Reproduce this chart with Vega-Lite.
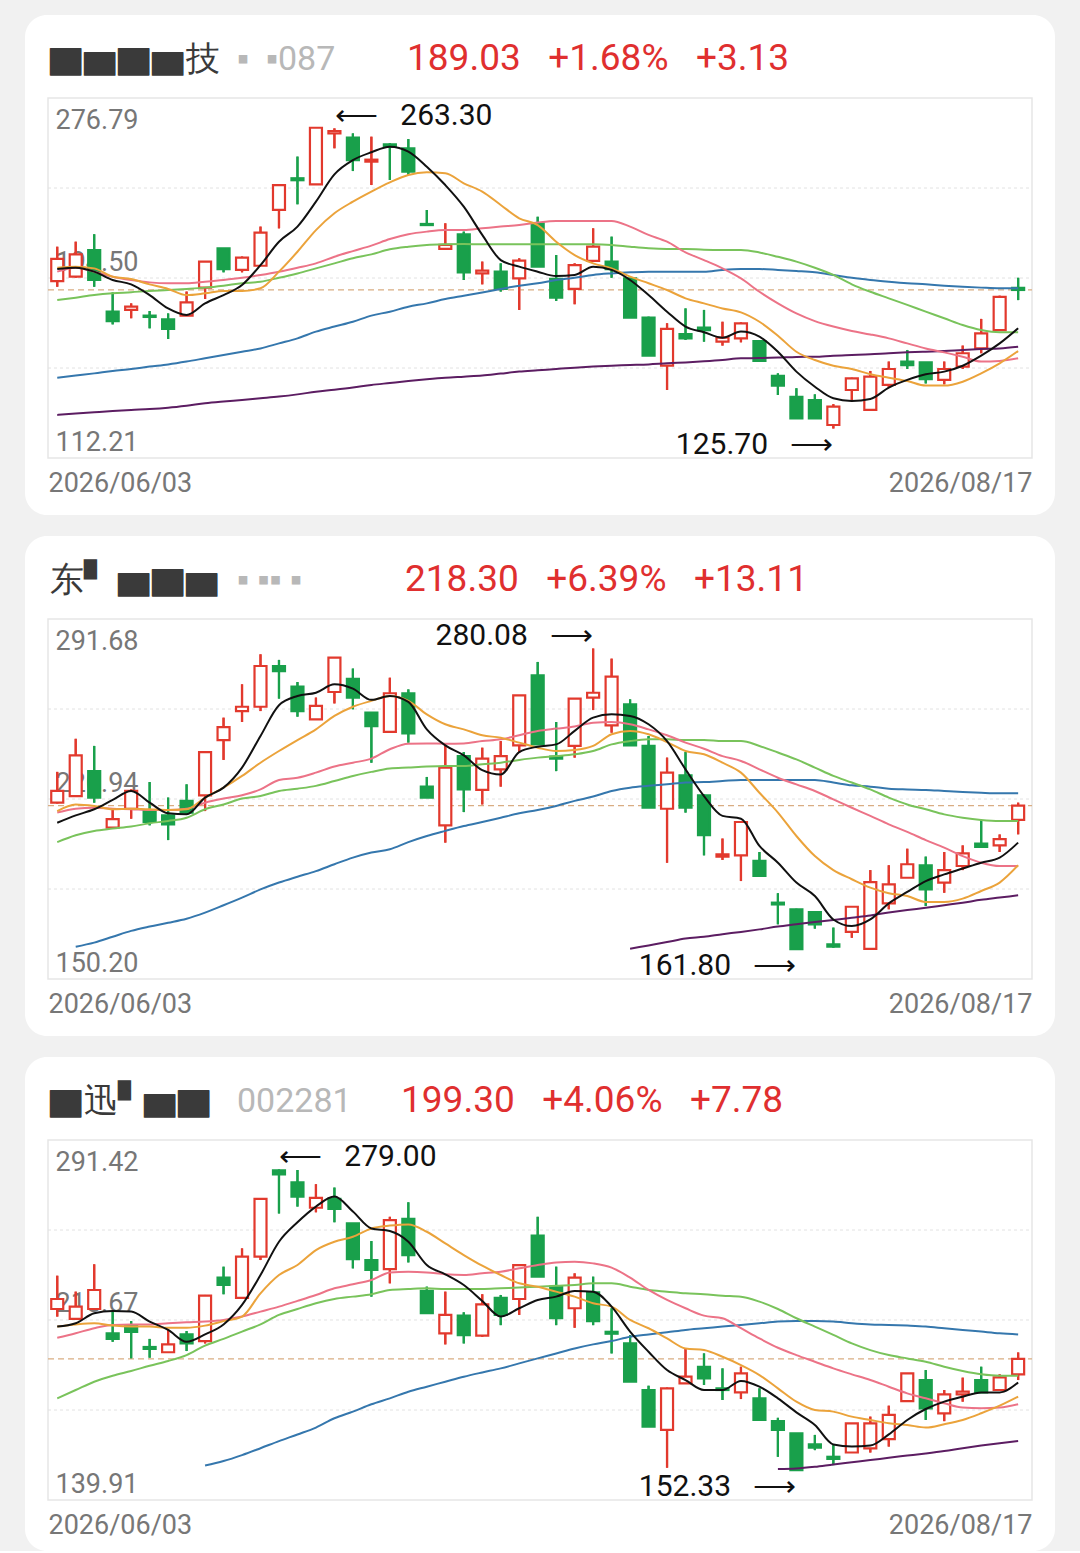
{
"$schema": "https://vega.github.io/schema/vega-lite/v6.json",
"background": "#f1f1f1",
"padding": {"left": 25, "top": 15, "right": 25, "bottom": 0},
"spacing": 21,
"config": {"view": {"stroke": null}, "font": "Roboto",
 "axisX": {"domain": false, "ticks": false, "grid": false, "labelPadding": 12, "labelFontSize": 27, "labelColor": "#777777", "labelFont": "Roboto", "labelBound": false, "labelOverlap": false, "title": null},
 "axisY": {"domain": false, "ticks": false, "grid": false, "labelAlign": "left", "labelPadding": -12, "labelFont": "Roboto", "labelFontSize": 27, "labelColor": "#777777", "labelOverlap": false, "labelBound": false, "title": null}},
"datasets": {
"p1": [
{"i":0,"o":193.1,"h":208.8,"l":190.5,"c":203.2,"m5":198.6,"m10":199.2,"m20":197.4,"m30":184.4,"m60":148.9,"m120":131.9},
{"i":1,"o":195.1,"h":211.1,"l":194.7,"c":205.3,"m5":199.2,"m10":199.7,"m20":199.2,"m30":185.5,"m60":149.9,"m120":132.5},
{"i":2,"o":207.3,"h":214.5,"l":190.5,"c":193.6,"m5":197.4,"m10":198.9,"m20":197.4,"m30":186.7,"m60":150.9,"m120":133.1},
{"i":3,"o":179.1,"h":187.9,"l":173.3,"c":174.8,"m5":193.6,"m10":195.1,"m20":195.1,"m30":187.5,"m60":152.0,"m120":133.7},
{"i":4,"o":179.9,"h":182.9,"l":176.1,"c":181.4,"m5":191.6,"m10":194.0,"m20":193.6,"m30":188.0,"m60":152.9,"m120":134.2},
{"i":5,"o":177.3,"h":179.4,"l":171.5,"c":176.7,"m5":186.7,"m10":191.6,"m20":192.5,"m30":188.6,"m60":154.0,"m120":134.6},
{"i":6,"o":175.6,"h":178.3,"l":166.6,"c":171.2,"m5":180.6,"m10":189.5,"m20":192.1,"m30":189.0,"m60":155.0,"m120":135.2},
{"i":7,"o":177.3,"h":188.3,"l":177.3,"c":183.4,"m5":177.6,"m10":186.7,"m20":192.1,"m30":189.5,"m60":156.3,"m120":136.1},
{"i":8,"o":190.1,"h":202.0,"l":184.9,"c":202.0,"m5":182.9,"m10":187.5,"m20":192.8,"m30":190.1,"m60":157.8,"m120":137.2},
{"i":9,"o":208.1,"h":208.1,"l":197.1,"c":198.6,"m5":186.7,"m10":188.6,"m20":193.6,"m30":191.0,"m60":159.3,"m120":138.0},
{"i":10,"o":198.2,"h":204.3,"l":197.1,"c":203.8,"m5":191.3,"m10":188.6,"m20":194.6,"m30":192.1,"m60":160.8,"m120":138.7},
{"i":11,"o":200.1,"h":218.0,"l":200.1,"c":215.2,"m5":200.4,"m10":189.8,"m20":195.9,"m30":192.8,"m60":162.3,"m120":139.5},
{"i":12,"o":225.6,"h":237.0,"l":217.2,"c":237.0,"m5":211.1,"m10":197.4,"m20":197.4,"m30":194.6,"m60":164.6,"m120":140.3},
{"i":13,"o":240.1,"h":250.0,"l":228.2,"c":239.2,"m5":218.0,"m10":206.5,"m20":199.2,"m30":196.6,"m60":166.9,"m120":141.3},
{"i":14,"o":237.3,"h":263.3,"l":237.3,"c":263.2,"m5":229.4,"m10":216.4,"m20":201.2,"m30":198.9,"m60":170.0,"m120":142.5},
{"i":15,"o":260.6,"h":262.9,"l":253.8,"c":261.7,"m5":241.9,"m10":224.1,"m20":204.2,"m30":201.2,"m60":172.3,"m120":143.4},
{"i":16,"o":258.7,"h":260.6,"l":243.4,"c":248.4,"m5":248.4,"m10":229.4,"m20":206.8,"m30":203.5,"m60":174.5,"m120":144.4},
{"i":17,"o":247.7,"h":259.1,"l":237.0,"c":248.6,"m5":252.0,"m10":234.0,"m20":209.3,"m30":205.3,"m60":177.3,"m120":145.6},
{"i":18,"o":255.6,"h":256.1,"l":239.3,"c":254.5,"m5":254.5,"m10":238.2,"m20":212.3,"m30":207.6,"m60":179.1,"m120":146.5},
{"i":19,"o":253.8,"h":258.0,"l":241.6,"c":243.1,"m5":252.3,"m10":241.6,"m20":214.5,"m30":208.8,"m60":181.4,"m120":147.4},
{"i":20,"o":219.2,"h":225.6,"l":218.7,"c":218.7,"m5":245.4,"m10":242.8,"m20":215.7,"m30":209.6,"m60":182.9,"m120":148.2},
{"i":21,"o":207.8,"h":219.5,"l":207.8,"c":209.6,"m5":237.0,"m10":242.4,"m20":216.4,"m30":209.9,"m60":184.9,"m120":148.9},
{"i":22,"o":214.5,"h":215.7,"l":193.6,"c":197.1,"m5":227.1,"m10":237.8,"m20":216.4,"m30":210.0,"m60":186.4,"m120":149.4},
{"i":23,"o":196.6,"h":202.0,"l":191.6,"c":197.9,"m5":214.2,"m10":234.0,"m20":217.2,"m30":209.9,"m60":187.9,"m120":149.9},
{"i":24,"o":197.4,"h":201.2,"l":188.3,"c":189.5,"m5":202.7,"m10":227.9,"m20":218.0,"m30":209.9,"m60":189.5,"m120":150.8},
{"i":25,"o":194.3,"h":203.5,"l":179.9,"c":202.4,"m5":199.7,"m10":221.8,"m20":218.7,"m30":209.9,"m60":191.0,"m120":151.7},
{"i":26,"o":219.5,"h":222.5,"l":199.7,"c":199.7,"m5":197.4,"m10":218.7,"m20":219.9,"m30":209.9,"m60":192.1,"m120":152.3},
{"i":27,"o":194.1,"h":205.0,"l":184.0,"c":185.5,"m5":195.4,"m10":211.1,"m20":220.6,"m30":209.9,"m60":193.6,"m120":152.9},
{"i":28,"o":189.5,"h":201.2,"l":182.5,"c":200.4,"m5":195.9,"m10":205.0,"m20":220.6,"m30":209.9,"m60":194.6,"m120":153.5},
{"i":29,"o":202.3,"h":217.2,"l":202.3,"c":208.8,"m5":199.7,"m10":201.2,"m20":220.6,"m30":209.9,"m60":195.9,"m120":154.0},
{"i":30,"o":202.0,"h":213.4,"l":194.6,"c":198.6,"m5":198.2,"m10":198.9,"m20":220.6,"m30":209.6,"m60":196.6,"m120":154.4},
{"i":31,"o":194.3,"h":194.3,"l":176.4,"c":176.4,"m5":193.6,"m10":195.1,"m20":218.0,"m30":208.8,"m60":197.1,"m120":154.7},
{"i":32,"o":176.4,"h":176.8,"l":159.0,"c":159.0,"m5":186.7,"m10":192.1,"m20":214.2,"m30":208.1,"m60":197.4,"m120":155.0},
{"i":33,"o":154.4,"h":173.8,"l":143.3,"c":171.2,"m5":179.1,"m10":189.0,"m20":211.1,"m30":207.8,"m60":197.4,"m120":155.5},
{"i":34,"o":168.8,"h":180.6,"l":166.2,"c":166.9,"m5":172.3,"m10":185.2,"m20":206.2,"m30":207.8,"m60":197.4,"m120":155.9},
{"i":35,"o":171.8,"h":179.9,"l":165.4,"c":170.7,"m5":169.7,"m10":182.9,"m20":202.7,"m30":207.4,"m60":197.4,"m120":156.4},
{"i":36,"o":165.4,"h":174.5,"l":163.6,"c":167.2,"m5":167.2,"m10":180.6,"m20":198.9,"m30":207.3,"m60":198.2,"m120":157.0},
{"i":37,"o":166.9,"h":174.2,"l":165.1,"c":173.8,"m5":170.0,"m10":178.8,"m20":194.3,"m30":207.3,"m60":198.6,"m120":157.8},
{"i":38,"o":165.7,"h":165.7,"l":156.6,"c":156.6,"m5":167.7,"m10":174.5,"m20":188.2,"m30":206.2,"m60":198.6,"m120":157.9},
{"i":39,"o":149.8,"h":150.9,"l":141.0,"c":145.3,"m5":160.8,"m10":168.1,"m20":182.9,"m30":204.2,"m60":198.2,"m120":158.1},
{"i":40,"o":140.2,"h":144.1,"l":130.3,"c":130.3,"m5":151.7,"m10":160.8,"m20":178.3,"m30":202.0,"m60":197.7,"m120":158.4},
{"i":41,"o":138.7,"h":141.3,"l":130.3,"c":130.3,"m5":144.8,"m10":157.0,"m20":174.8,"m30":199.2,"m60":197.1,"m120":158.5},
{"i":42,"o":127.3,"h":136.8,"l":125.7,"c":135.7,"m5":139.5,"m10":154.4,"m20":172.3,"m30":195.9,"m60":195.9,"m120":159.0},
{"i":43,"o":143.3,"h":148.9,"l":138.0,"c":148.6,"m5":138.3,"m10":152.9,"m20":170.3,"m30":191.6,"m60":194.6,"m120":159.3},
{"i":44,"o":134.2,"h":152.0,"l":134.2,"c":149.4,"m5":139.2,"m10":150.5,"m20":168.7,"m30":188.2,"m60":193.6,"m120":159.6},
{"i":45,"o":145.6,"h":156.3,"l":144.4,"c":152.9,"m5":144.4,"m10":148.9,"m20":166.9,"m30":185.2,"m60":192.8,"m120":160.1},
{"i":46,"o":156.3,"h":161.6,"l":152.9,"c":154.7,"m5":147.9,"m10":147.4,"m20":164.6,"m30":182.2,"m60":192.1,"m120":160.5},
{"i":47,"o":155.9,"h":155.9,"l":146.3,"c":148.3,"m5":150.5,"m10":145.3,"m20":162.3,"m30":179.1,"m60":191.6,"m120":160.8},
{"i":48,"o":147.9,"h":156.3,"l":145.9,"c":152.9,"m5":151.7,"m10":145.3,"m20":160.5,"m30":176.1,"m60":191.0,"m120":161.1},
{"i":49,"o":154.0,"h":163.6,"l":152.9,"c":160.1,"m5":154.4,"m10":147.1,"m20":158.5,"m30":173.0,"m60":190.5,"m120":161.6},
{"i":50,"o":162.3,"h":175.8,"l":160.1,"c":169.2,"m5":159.0,"m10":150.9,"m20":156.3,"m30":170.7,"m60":190.1,"m120":162.0},
{"i":51,"o":170.7,"h":186.4,"l":170.7,"c":185.9,"m5":164.6,"m10":155.5,"m20":156.6,"m30":169.7,"m60":189.8,"m120":162.3},
{"i":52,"o":190.0,"h":194.6,"l":184.4,"c":189.03,"m5":171.5,"m10":161.1,"m20":157.8,"m30":169.7,"m60":189.8,"m120":163.1}
],
"p2": [
{"i":0,"o":219.5,"h":231.6,"l":219.2,"c":224.1,"m5":211.6,"m10":216.2,"m20":215.6,"m30":204.0},
{"i":1,"o":222.1,"h":244.6,"l":222.1,"c":238.1,"m5":214.5,"m10":218.8,"m20":217.1,"m30":206.7,"m60":162.9},
{"i":2,"o":231.9,"h":241.8,"l":219.5,"c":221.5,"m5":216.9,"m10":218.2,"m20":217.5,"m30":208.4,"m60":164.5},
{"i":3,"o":209.7,"h":217.1,"l":209.7,"c":213.0,"m5":220.6,"m10":216.9,"m20":217.1,"m30":209.3,"m60":166.8},
{"i":4,"o":217.1,"h":224.7,"l":213.2,"c":224.1,"m5":224.1,"m10":217.1,"m20":216.9,"m30":210.1,"m60":169.1},
{"i":5,"o":216.2,"h":227.6,"l":210.6,"c":211.9,"m5":219.5,"m10":216.9,"m20":216.6,"m30":211.4,"m60":170.8},
{"i":6,"o":214.5,"h":221.5,"l":204.8,"c":211.0,"m5":215.3,"m10":216.6,"m20":216.6,"m30":212.3,"m60":172.3},
{"i":7,"o":220.2,"h":226.7,"l":214.9,"c":215.6,"m5":214.9,"m10":216.9,"m20":217.1,"m30":213.6,"m60":173.9},
{"i":8,"o":222.4,"h":239.4,"l":216.2,"c":239.4,"m5":221.5,"m10":221.5,"m20":219.5,"m30":216.9,"m60":176.3},
{"i":9,"o":244.1,"h":252.9,"l":236.3,"c":249.2,"m5":225.4,"m10":225.4,"m20":221.1,"m30":218.8,"m60":179.2},
{"i":10,"o":255.5,"h":266.0,"l":251.2,"c":257.2,"m5":233.3,"m10":230.0,"m20":222.4,"m30":221.1,"m60":182.2},
{"i":11,"o":257.2,"h":277.8,"l":255.5,"c":273.2,"m5":245.7,"m10":235.2,"m20":224.7,"m30":222.1,"m60":185.4},
{"i":12,"o":273.2,"h":275.6,"l":260.4,"c":271.2,"m5":257.8,"m10":239.8,"m20":228.4,"m30":224.1,"m60":188.1},
{"i":13,"o":265.1,"h":266.9,"l":253.3,"c":255.5,"m5":261.4,"m10":244.1,"m20":229.3,"m30":225.0,"m60":190.4},
{"i":14,"o":252.2,"h":260.8,"l":252.2,"c":257.5,"m5":262.7,"m10":248.3,"m20":231.3,"m30":226.1,"m60":192.6},
{"i":15,"o":263.0,"h":276.5,"l":258.5,"c":276.5,"m5":266.0,"m10":253.6,"m20":233.7,"m30":228.0,"m60":195.3},
{"i":16,"o":268.2,"h":272.2,"l":256.2,"c":260.8,"m5":264.3,"m10":257.2,"m20":235.2,"m30":230.0,"m60":197.9},
{"i":17,"o":254.9,"h":255.1,"l":235.2,"c":249.6,"m5":259.9,"m10":259.5,"m20":236.8,"m30":231.6,"m60":199.9},
{"i":18,"o":247.3,"h":268.6,"l":247.3,"c":262.5,"m5":261.4,"m10":261.4,"m20":240.5,"m30":232.9,"m60":201.2},
{"i":19,"o":262.5,"h":264.0,"l":243.1,"c":246.7,"m5":259.1,"m10":259.5,"m20":242.7,"m30":233.3,"m60":204.0},
{"i":20,"o":225.8,"h":229.6,"l":221.5,"c":221.5,"m5":248.3,"m10":254.2,"m20":242.8,"m30":233.7,"m60":206.4},
{"i":21,"o":210.6,"h":242.4,"l":203.8,"c":233.3,"m5":242.0,"m10":250.3,"m20":242.7,"m30":233.9,"m60":208.4},
{"i":22,"o":237.8,"h":239.4,"l":215.8,"c":224.7,"m5":238.1,"m10":248.3,"m20":242.8,"m30":233.9,"m60":210.3},
{"i":23,"o":224.5,"h":241.1,"l":218.8,"c":236.8,"m5":232.3,"m10":246.0,"m20":243.7,"m30":234.6,"m60":211.9},
{"i":24,"o":232.6,"h":243.7,"l":225.8,"c":237.8,"m5":230.6,"m10":245.0,"m20":244.4,"m30":235.2,"m60":213.6},
{"i":25,"o":242.0,"h":261.7,"l":239.2,"c":261.7,"m5":239.4,"m10":243.1,"m20":246.0,"m30":236.3,"m60":215.3},
{"i":26,"o":269.5,"h":274.8,"l":242.4,"c":242.4,"m5":241.5,"m10":241.1,"m20":247.7,"m30":237.2,"m60":216.6},
{"i":27,"o":237.6,"h":251.2,"l":231.9,"c":236.8,"m5":242.4,"m10":239.8,"m20":248.6,"m30":237.8,"m60":218.2},
{"i":28,"o":241.8,"h":260.4,"l":237.2,"c":260.4,"m5":247.7,"m10":240.2,"m20":249.4,"m30":238.5,"m60":220.2},
{"i":29,"o":260.8,"h":280.08,"l":255.9,"c":262.7,"m5":252.9,"m10":241.8,"m20":250.9,"m30":239.8,"m60":221.9},
{"i":30,"o":249.9,"h":276.1,"l":247.0,"c":269.0,"m5":254.2,"m10":246.4,"m20":251.2,"m30":242.4,"m60":224.1},
{"i":31,"o":258.1,"h":260.1,"l":242.0,"c":242.0,"m5":253.6,"m10":247.7,"m20":250.3,"m30":243.7,"m60":225.4,"m120":162.1},
{"i":32,"o":241.8,"h":245.7,"l":217.5,"c":217.5,"m5":250.3,"m10":246.4,"m20":248.3,"m30":244.4,"m60":226.1,"m120":163.4},
{"i":33,"o":217.1,"h":237.2,"l":195.9,"c":231.3,"m5":243.7,"m10":243.3,"m20":246.0,"m30":244.4,"m60":226.7,"m120":164.7},
{"i":34,"o":230.2,"h":239.4,"l":215.6,"c":217.5,"m5":232.6,"m10":239.8,"m20":243.1,"m30":244.1,"m60":227.4,"m120":166.1},
{"i":35,"o":222.4,"h":222.8,"l":198.8,"c":206.7,"m5":222.1,"m10":238.5,"m20":240.7,"m30":244.1,"m60":227.6,"m120":166.8},
{"i":36,"o":198.3,"h":205.4,"l":197.0,"c":199.2,"m5":214.3,"m10":235.2,"m20":237.8,"m30":243.7,"m60":228.0,"m120":167.8},
{"i":37,"o":198.8,"h":212.3,"l":188.7,"c":211.9,"m5":213.2,"m10":231.3,"m20":235.9,"m30":243.7,"m60":228.4,"m120":168.7},
{"i":38,"o":196.6,"h":200.1,"l":190.7,"c":190.7,"m5":202.5,"m10":223.4,"m20":232.6,"m30":241.8,"m60":228.4,"m120":169.7},
{"i":39,"o":180.2,"h":183.9,"l":171.7,"c":179.5,"m5":195.9,"m10":215.6,"m20":229.3,"m30":239.2,"m60":228.4,"m120":170.8},
{"i":40,"o":177.6,"h":177.8,"l":161.8,"c":161.9,"m5":188.1,"m10":206.4,"m20":226.7,"m30":236.5,"m60":228.4,"m120":171.7},
{"i":41,"o":176.5,"h":176.9,"l":170.0,"c":171.7,"m5":182.8,"m10":198.5,"m20":224.1,"m30":233.3,"m60":228.4,"m120":172.6},
{"i":42,"o":163.8,"h":170.4,"l":162.5,"c":162.9,"m5":173.6,"m10":193.0,"m20":220.8,"m30":230.0,"m60":227.4,"m120":173.4},
{"i":43,"o":168.7,"h":178.9,"l":166.4,"c":178.6,"m5":171.0,"m10":189.4,"m20":217.5,"m30":227.4,"m60":226.3,"m120":174.3},
{"i":44,"o":162.0,"h":193.0,"l":162.0,"c":188.3,"m5":173.6,"m10":186.1,"m20":214.3,"m30":224.7,"m60":225.8,"m120":175.2},
{"i":45,"o":179.9,"h":194.9,"l":177.6,"c":187.4,"m5":179.9,"m10":183.9,"m20":211.0,"m30":221.5,"m60":225.0,"m120":176.3},
{"i":46,"o":190.0,"h":201.4,"l":190.0,"c":195.3,"m5":184.4,"m10":182.8,"m20":208.0,"m30":218.8,"m60":224.7,"m120":177.3},
{"i":47,"o":194.9,"h":198.3,"l":178.9,"c":185.4,"m5":188.7,"m10":180.5,"m20":204.8,"m30":216.9,"m60":224.5,"m120":178.2},
{"i":48,"o":188.1,"h":200.1,"l":184.1,"c":193.0,"m5":191.3,"m10":180.5,"m20":201.8,"m30":214.9,"m60":224.1,"m120":179.2},
{"i":49,"o":194.6,"h":202.7,"l":193.0,"c":199.6,"m5":193.6,"m10":181.8,"m20":198.5,"m30":213.6,"m60":223.7,"m120":180.2},
{"i":50,"o":203.4,"h":212.7,"l":202.1,"c":202.1,"m5":195.9,"m10":184.8,"m20":195.9,"m30":212.7,"m60":223.4,"m120":181.3},
{"i":51,"o":202.7,"h":207.0,"l":200.1,"c":205.19,"m5":197.9,"m10":188.1,"m20":194.6,"m30":212.3,"m60":223.2,"m120":182.2},
{"i":52,"o":212.7,"h":219.5,"l":207.06,"c":218.3,"m5":203.8,"m10":194.9,"m20":194.6,"m30":212.3,"m60":223.2,"m120":183.1}
],
"p3": [
{"i":0,"o":220.3,"h":234.3,"l":217.1,"c":224.5,"m5":212.9,"m10":212.9,"m20":208.2,"m30":182.7},
{"i":1,"o":216.1,"h":227.6,"l":216.1,"c":221.3,"m5":214.3,"m10":213.8,"m20":210.1,"m30":186.2},
{"i":2,"o":220.3,"h":239.1,"l":220.3,"c":228.3,"m5":218.5,"m10":214.3,"m20":212.2,"m30":189.7},
{"i":3,"o":210.0,"h":219.5,"l":206.5,"c":207.7,"m5":219.5,"m10":213.3,"m20":213.6,"m30":192.2},
{"i":4,"o":213.3,"h":215.2,"l":199.5,"c":210.7,"m5":219.2,"m10":212.9,"m20":213.8,"m30":194.2},
{"i":5,"o":204.3,"h":207.7,"l":199.8,"c":203.5,"m5":215.0,"m10":212.9,"m20":213.8,"m30":196.4},
{"i":6,"o":202.1,"h":211.4,"l":202.1,"c":205.4,"m5":211.5,"m10":212.4,"m20":214.3,"m30":198.4},
{"i":7,"o":209.6,"h":211.0,"l":202.6,"c":205.8,"m5":206.5,"m10":212.4,"m20":214.7,"m30":200.9},
{"i":8,"o":206.8,"h":226.2,"l":205.8,"c":225.9,"m5":209.6,"m10":213.3,"m20":215.0,"m30":204.9,"m60":154.4},
{"i":9,"o":233.5,"h":238.1,"l":226.5,"c":230.4,"m5":213.8,"m10":215.2,"m20":215.7,"m30":207.7,"m60":156.3},
{"i":10,"o":225.0,"h":245.8,"l":225.0,"c":242.3,"m5":222.0,"m10":217.1,"m20":217.1,"m30":210.8,"m60":158.8},
{"i":11,"o":242.3,"h":266.9,"l":240.9,"c":266.6,"m5":234.6,"m10":226.9,"m20":219.2,"m30":213.8,"m60":161.7},
{"i":12,"o":278.6,"h":279.0,"l":260.5,"c":276.9,"m5":248.6,"m10":234.6,"m20":221.3,"m30":217.8,"m60":164.7},
{"i":13,"o":273.6,"h":278.8,"l":263.4,"c":267.6,"m5":256.8,"m10":238.8,"m20":223.7,"m30":220.3,"m60":167.5},
{"i":14,"o":262.9,"h":272.8,"l":261.0,"c":267.1,"m5":263.4,"m10":245.1,"m20":226.2,"m30":222.7,"m60":170.4},
{"i":15,"o":266.6,"h":271.4,"l":256.8,"c":262.4,"m5":267.6,"m10":248.6,"m20":229.0,"m30":224.5,"m60":174.3},
{"i":16,"o":256.3,"h":256.3,"l":237.4,"c":241.3,"m5":261.3,"m10":250.7,"m20":230.7,"m30":225.5,"m60":177.1},
{"i":17,"o":240.9,"h":248.9,"l":225.5,"c":236.7,"m5":254.2,"m10":254.2,"m20":232.5,"m30":226.5,"m60":180.2},
{"i":18,"o":237.1,"h":259.1,"l":231.1,"c":257.7,"m5":253.1,"m10":255.4,"m20":235.7,"m30":228.3,"m60":182.7},
{"i":19,"o":258.2,"h":265.2,"l":239.9,"c":243.0,"m5":248.6,"m10":255.9,"m20":236.0,"m30":228.7,"m60":185.5},
{"i":20,"o":227.9,"h":229.7,"l":218.5,"c":218.5,"m5":238.8,"m10":252.8,"m20":235.7,"m30":229.0,"m60":187.6},
{"i":21,"o":210.0,"h":227.6,"l":205.4,"c":217.8,"m5":234.9,"m10":247.9,"m20":234.9,"m30":228.7,"m60":189.7},
{"i":22,"o":217.5,"h":218.9,"l":205.8,"c":209.3,"m5":230.4,"m10":243.0,"m20":234.6,"m30":228.7,"m60":191.8},
{"i":23,"o":209.1,"h":226.5,"l":208.6,"c":222.2,"m5":223.7,"m10":238.5,"m20":235.3,"m30":228.7,"m60":193.6},
{"i":24,"o":225.0,"h":226.2,"l":213.5,"c":217.8,"m5":217.1,"m10":234.6,"m20":236.0,"m30":229.0,"m60":195.3},
{"i":25,"o":224.5,"h":239.1,"l":217.8,"c":238.8,"m5":220.6,"m10":231.1,"m20":237.4,"m30":229.3,"m60":197.4},
{"i":26,"o":251.2,"h":259.1,"l":233.9,"c":233.9,"m5":224.1,"m10":229.7,"m20":238.8,"m30":229.7,"m60":199.5},
{"i":27,"o":229.7,"h":238.1,"l":213.5,"c":216.4,"m5":225.5,"m10":227.6,"m20":239.9,"m30":230.1,"m60":201.6},
{"i":28,"o":220.6,"h":235.3,"l":212.4,"c":233.5,"m5":227.9,"m10":225.5,"m20":240.2,"m30":230.4,"m60":203.7},
{"i":29,"o":227.3,"h":233.9,"l":213.5,"c":215.2,"m5":227.6,"m10":222.7,"m20":239.5,"m30":231.1,"m60":205.4},
{"i":30,"o":210.7,"h":220.6,"l":201.6,"c":209.9,"m5":221.3,"m10":221.3,"m20":237.7,"m30":231.1,"m60":206.8},
{"i":31,"o":205.8,"h":209.3,"l":189.7,"c":189.7,"m5":210.8,"m10":215.7,"m20":233.5,"m30":229.7,"m60":208.6},
{"i":32,"o":186.2,"h":188.0,"l":170.8,"c":170.8,"m5":202.3,"m10":212.2,"m20":228.3,"m30":228.3,"m60":209.6},
{"i":33,"o":169.4,"h":187.2,"l":153.5,"c":186.9,"m5":194.6,"m10":207.9,"m20":224.1,"m30":227.6,"m60":210.5},
{"i":34,"o":189.0,"h":203.7,"l":189.0,"c":191.8,"m5":190.4,"m10":203.7,"m20":220.6,"m30":226.9,"m60":211.5},
{"i":35,"o":196.0,"h":201.6,"l":188.3,"c":191.1,"m5":186.2,"m10":203.0,"m20":217.5,"m30":226.5,"m60":212.2},
{"i":36,"o":186.9,"h":195.3,"l":182.0,"c":186.2,"m5":186.2,"m10":200.2,"m20":216.4,"m30":225.9,"m60":212.9},
{"i":37,"o":185.2,"h":196.0,"l":182.4,"c":193.2,"m5":190.0,"m10":196.7,"m20":212.2,"m30":225.5,"m60":213.6},
{"i":38,"o":182.7,"h":186.9,"l":173.6,"c":173.6,"m5":187.6,"m10":192.5,"m20":207.9,"m30":223.4,"m60":214.3},
{"i":39,"o":173.1,"h":174.5,"l":158.1,"c":169.4,"m5":182.7,"m10":186.9,"m20":204.0,"m30":220.3,"m60":215.0,"m120":153.0},
{"i":40,"o":168.0,"h":168.0,"l":152.33,"c":152.5,"m5":176.8,"m10":181.3,"m20":200.9,"m30":216.4,"m60":215.2,"m120":153.2},
{"i":41,"o":163.3,"h":167.3,"l":160.9,"c":161.9,"m5":171.5,"m10":177.8,"m20":198.1,"m30":212.9,"m60":215.2,"m120":153.9},
{"i":42,"o":158.1,"h":163.0,"l":154.6,"c":157.2,"m5":163.3,"m10":177.1,"m20":195.3,"m30":209.4,"m60":215.0,"m120":154.9},
{"i":43,"o":159.9,"h":172.2,"l":159.9,"c":172.2,"m5":162.4,"m10":175.0,"m20":192.8,"m30":205.8,"m60":214.3,"m120":155.8},
{"i":44,"o":161.6,"h":175.0,"l":159.9,"c":172.2,"m5":162.8,"m10":173.6,"m20":190.4,"m30":203.0,"m60":213.8,"m120":156.7},
{"i":45,"o":165.5,"h":179.6,"l":162.4,"c":175.7,"m5":167.5,"m10":172.2,"m20":187.6,"m30":200.9,"m60":213.6,"m120":157.7},
{"i":46,"o":181.5,"h":193.2,"l":181.5,"c":193.2,"m5":173.6,"m10":171.5,"m20":184.8,"m30":199.5,"m60":213.3,"m120":158.6},
{"i":47,"o":190.4,"h":194.6,"l":173.6,"c":178.5,"m5":178.2,"m10":170.4,"m20":182.7,"m30":198.1,"m60":212.9,"m120":159.5},
{"i":48,"o":176.4,"h":186.2,"l":173.1,"c":184.4,"m5":181.3,"m10":171.8,"m20":180.6,"m30":196.0,"m60":212.2,"m120":160.5},
{"i":49,"o":184.4,"h":191.4,"l":181.3,"c":185.5,"m5":183.4,"m10":173.6,"m20":178.8,"m30":194.2,"m60":211.5,"m120":161.7},
{"i":50,"o":190.4,"h":196.0,"l":185.2,"c":185.2,"m5":185.2,"m10":176.4,"m20":178.5,"m30":192.8,"m60":210.8,"m120":162.8},
{"i":51,"o":186.2,"h":192.8,"l":186.2,"c":191.52,"m5":185.2,"m10":179.6,"m20":178.8,"m30":192.2,"m60":210.1,"m120":163.8},
{"i":52,"o":192.8,"h":202.0,"l":190.4,"c":199.3,"m5":189.4,"m10":183.4,"m20":180.2,"m30":192.2,"m60":209.6,"m120":164.7}
]
},
"vconcat": [
{
"width": 1030, "height": 500,
"view": {"fill": "#ffffff", "stroke": null, "cornerRadius": 22},
"data": {"name": "p1"},
"layer": [
{"mark": {"type": "rule", "strokeWidth": 2.2},
 "encoding": {
  "x": {"field": "i", "type": "quantitative", "title": null, "scale": {"domain": [-0.5, 52.75], "range": [18, 1012], "nice": false, "zero": false},
   "axis": {"orient": "bottom", "offset": -57, "values": [-0.5, 52.75], "labelAlign": {"condition": {"test": "datum.value < 0", "value": "left"}, "value": "right"}, "labelExpr": "datum.value < 0 ? '2026/06/03' : '2026/08/17'"}},
  "y": {"field": "l", "type": "quantitative", "title": null, "scale": {"domain": [112.21, 276.79], "range": [443, 83], "nice": false, "zero": false},
   "axis": {"orient": "left", "offset": -18, "values": [112.21, 194.5, 276.79], "labelExpr": "format(datum.value, '.2f')", "labelBaseline": {"condition": {"test": "datum.value > 276", "value": "top"}, "value": "alphabetic"}, "labelOffset": {"condition": {"test": "datum.value > 276", "value": 9}, "value": -8}}},
  "y2": {"field": "h"},
  "stroke": {"condition": {"test": "datum.c >= datum.o", "value": "#e2392d"}, "value": "#19a04b"}}},
{"data": {"values": [{"k": 1}]}, "mark": {"type": "rect", "fillOpacity": 0, "stroke": "#e6e6e6", "strokeWidth": 1.5},
 "encoding": {"x": {"datum": -0.5, "title": null}, "x2": {"datum": 52.75}, "y": {"datum": 112.21, "title": null}, "y2": {"datum": 276.79}}},
{"data": {"values": [{"g": 153.355}, {"g": 194.5}, {"g": 235.645}]}, "mark": {"type": "rule", "stroke": "#e2e2e2", "strokeDash": [3, 3], "strokeWidth": 1},
 "encoding": {"x": {"datum": -0.5, "title": null}, "x2": {"datum": 52.75}, "y": {"field": "g", "type": "quantitative", "title": null}}},
{"data": {"values": [{"g": 189.03}]}, "mark": {"type": "rule", "stroke": "#d9ad82", "strokeDash": [6, 4], "strokeWidth": 1.2},
 "encoding": {"x": {"datum": -0.5, "title": null}, "x2": {"datum": 52.75}, "y": {"field": "g", "type": "quantitative", "title": null}}},
{"mark": {"type": "rule", "strokeWidth": 2.2},
 "encoding": {"x": {"field": "i", "type": "quantitative", "title": null}, "y": {"field": "l", "type": "quantitative", "title": null}, "y2": {"field": "h"},
  "stroke": {"condition": {"test": "datum.c >= datum.o", "value": "#e2392d"}, "value": "#19a04b"}}},
{"mark": {"type": "bar", "size": 12, "strokeWidth": 2.2},
 "encoding": {"x": {"field": "i", "type": "quantitative", "title": null}, "y": {"field": "o", "type": "quantitative", "title": null}, "y2": {"field": "c"},
  "fill": {"condition": {"test": "datum.c >= datum.o", "value": "#ffffff"}, "value": "#19a04b"},
  "stroke": {"condition": {"test": "datum.c >= datum.o", "value": "#e2392d"}, "value": "#19a04b"}}},
{"mark": {"type": "line", "color": "#5c1d62", "strokeWidth": 2, "interpolate": "monotone", "invalid": "filter"}, "encoding": {"x": {"field": "i", "type": "quantitative", "title": null}, "y": {"field": "m120", "type": "quantitative", "title": null}}},
{"mark": {"type": "line", "color": "#3577ad", "strokeWidth": 2, "interpolate": "monotone", "invalid": "filter"}, "encoding": {"x": {"field": "i", "type": "quantitative", "title": null}, "y": {"field": "m60", "type": "quantitative", "title": null}}},
{"mark": {"type": "line", "color": "#79c35b", "strokeWidth": 2, "interpolate": "monotone", "invalid": "filter"}, "encoding": {"x": {"field": "i", "type": "quantitative", "title": null}, "y": {"field": "m30", "type": "quantitative", "title": null}}},
{"mark": {"type": "line", "color": "#ec7387", "strokeWidth": 2, "interpolate": "monotone", "invalid": "filter"}, "encoding": {"x": {"field": "i", "type": "quantitative", "title": null}, "y": {"field": "m20", "type": "quantitative", "title": null}}},
{"mark": {"type": "line", "color": "#eba33b", "strokeWidth": 2, "interpolate": "monotone", "invalid": "filter"}, "encoding": {"x": {"field": "i", "type": "quantitative", "title": null}, "y": {"field": "m10", "type": "quantitative", "title": null}}},
{"mark": {"type": "line", "color": "#111111", "strokeWidth": 2, "interpolate": "monotone", "invalid": "filter"}, "encoding": {"x": {"field": "i", "type": "quantitative", "title": null}, "y": {"field": "m5", "type": "quantitative", "title": null}}},
{"data": {"values": [{"k": 1}]}, "mark": {"type": "text", "align": "left", "baseline": "alphabetic", "dx": 2, "dy": -28, "fontSize": 34, "fill": "#3a3a3a"},
 "encoding": {"x": {"datum": -0.5, "title": null}, "y": {"datum": 276.79, "title": null}, "text": {"value": "▇▆▇▆技"}}},
{"data": {"values": [{"k": 1}]}, "mark": {"type": "text", "align": "left", "baseline": "alphabetic", "dx": 189, "dy": -28, "fontSize": 34, "fill": "#b8b8b8"},
 "encoding": {"x": {"datum": -0.5, "title": null}, "y": {"datum": 276.79, "title": null}, "text": {"value": "▪\u00a0\u00a0▪087"}}},
{"data": {"values": [{"k": 1}]}, "mark": {"type": "text", "align": "left", "baseline": "alphabetic", "dx": 359, "dy": -28, "fontSize": 37, "fill": "#e02f2f", "font": "Roboto"},
 "encoding": {"x": {"datum": -0.5, "title": null}, "y": {"datum": 276.79, "title": null}, "text": {"value": "189.03\u00a0\u00a0\u00a0+1.68%\u00a0\u00a0\u00a0+3.13"}}},
{"data": {"values": [{"k": 1}]}, "mark": {"type": "text", "align": "left", "baseline": "middle", "dx": 19, "dy": -12, "fontSize": 30, "fill": "#111111", "font": "Roboto"},
 "encoding": {"x": {"datum": 14, "title": null}, "y": {"datum": 263.3, "title": null}, "text": {"value": "⟵\u00a0\u00a0\u00a0263.30"}}},
{"data": {"values": [{"k": 1}]}, "mark": {"type": "text", "align": "right", "baseline": "middle", "dx": 0, "dy": 17, "fontSize": 30, "fill": "#111111", "font": "Roboto"},
 "encoding": {"x": {"datum": 42, "title": null}, "y": {"datum": 125.7, "title": null}, "text": {"value": "125.70\u00a0\u00a0\u00a0⟶"}}}
]
},
{
"width": 1030, "height": 500,
"view": {"fill": "#ffffff", "stroke": null, "cornerRadius": 22},
"data": {"name": "p2"},
"layer": [
{"mark": {"type": "rule", "strokeWidth": 2.2},
 "encoding": {
  "x": {"field": "i", "type": "quantitative", "title": null, "scale": {"domain": [-0.5, 52.75], "range": [18, 1012], "nice": false, "zero": false},
   "axis": {"orient": "bottom", "offset": -57, "values": [-0.5, 52.75], "labelAlign": {"condition": {"test": "datum.value < 0", "value": "left"}, "value": "right"}, "labelExpr": "datum.value < 0 ? '2026/06/03' : '2026/08/17'"}},
  "y": {"field": "l", "type": "quantitative", "title": null, "scale": {"domain": [150.2, 291.68], "range": [443, 83], "nice": false, "zero": false},
   "axis": {"orient": "left", "offset": -18, "values": [150.2, 220.94, 291.68], "labelExpr": "format(datum.value, '.2f')", "labelBaseline": {"condition": {"test": "datum.value > 291", "value": "top"}, "value": "alphabetic"}, "labelOffset": {"condition": {"test": "datum.value > 291", "value": 9}, "value": -8}}},
  "y2": {"field": "h"},
  "stroke": {"condition": {"test": "datum.c >= datum.o", "value": "#e2392d"}, "value": "#19a04b"}}},
{"data": {"values": [{"k": 1}]}, "mark": {"type": "rect", "fillOpacity": 0, "stroke": "#e6e6e6", "strokeWidth": 1.5},
 "encoding": {"x": {"datum": -0.5, "title": null}, "x2": {"datum": 52.75}, "y": {"datum": 150.2, "title": null}, "y2": {"datum": 291.68}}},
{"data": {"values": [{"g": 185.57}, {"g": 220.94}, {"g": 256.31}]}, "mark": {"type": "rule", "stroke": "#e2e2e2", "strokeDash": [3, 3], "strokeWidth": 1},
 "encoding": {"x": {"datum": -0.5, "title": null}, "x2": {"datum": 52.75}, "y": {"field": "g", "type": "quantitative", "title": null}}},
{"data": {"values": [{"g": 218.3}]}, "mark": {"type": "rule", "stroke": "#d9ad82", "strokeDash": [6, 4], "strokeWidth": 1.2},
 "encoding": {"x": {"datum": -0.5, "title": null}, "x2": {"datum": 52.75}, "y": {"field": "g", "type": "quantitative", "title": null}}},
{"mark": {"type": "rule", "strokeWidth": 2.2},
 "encoding": {"x": {"field": "i", "type": "quantitative", "title": null}, "y": {"field": "l", "type": "quantitative", "title": null}, "y2": {"field": "h"},
  "stroke": {"condition": {"test": "datum.c >= datum.o", "value": "#e2392d"}, "value": "#19a04b"}}},
{"mark": {"type": "bar", "size": 12, "strokeWidth": 2.2},
 "encoding": {"x": {"field": "i", "type": "quantitative", "title": null}, "y": {"field": "o", "type": "quantitative", "title": null}, "y2": {"field": "c"},
  "fill": {"condition": {"test": "datum.c >= datum.o", "value": "#ffffff"}, "value": "#19a04b"},
  "stroke": {"condition": {"test": "datum.c >= datum.o", "value": "#e2392d"}, "value": "#19a04b"}}},
{"mark": {"type": "line", "color": "#5c1d62", "strokeWidth": 2, "interpolate": "monotone", "invalid": "filter"}, "encoding": {"x": {"field": "i", "type": "quantitative", "title": null}, "y": {"field": "m120", "type": "quantitative", "title": null}}},
{"mark": {"type": "line", "color": "#3577ad", "strokeWidth": 2, "interpolate": "monotone", "invalid": "filter"}, "encoding": {"x": {"field": "i", "type": "quantitative", "title": null}, "y": {"field": "m60", "type": "quantitative", "title": null}}},
{"mark": {"type": "line", "color": "#79c35b", "strokeWidth": 2, "interpolate": "monotone", "invalid": "filter"}, "encoding": {"x": {"field": "i", "type": "quantitative", "title": null}, "y": {"field": "m30", "type": "quantitative", "title": null}}},
{"mark": {"type": "line", "color": "#ec7387", "strokeWidth": 2, "interpolate": "monotone", "invalid": "filter"}, "encoding": {"x": {"field": "i", "type": "quantitative", "title": null}, "y": {"field": "m20", "type": "quantitative", "title": null}}},
{"mark": {"type": "line", "color": "#eba33b", "strokeWidth": 2, "interpolate": "monotone", "invalid": "filter"}, "encoding": {"x": {"field": "i", "type": "quantitative", "title": null}, "y": {"field": "m10", "type": "quantitative", "title": null}}},
{"mark": {"type": "line", "color": "#111111", "strokeWidth": 2, "interpolate": "monotone", "invalid": "filter"}, "encoding": {"x": {"field": "i", "type": "quantitative", "title": null}, "y": {"field": "m5", "type": "quantitative", "title": null}}},
{"data": {"values": [{"k": 1}]}, "mark": {"type": "text", "align": "left", "baseline": "alphabetic", "dx": 2, "dy": -28, "fontSize": 34, "fill": "#3a3a3a"},
 "encoding": {"x": {"datum": -0.5, "title": null}, "y": {"datum": 291.68, "title": null}, "text": {"value": "东▘\u00a0▆▇▆"}}},
{"data": {"values": [{"k": 1}]}, "mark": {"type": "text", "align": "left", "baseline": "alphabetic", "dx": 189, "dy": -28, "fontSize": 34, "fill": "#b8b8b8"},
 "encoding": {"x": {"datum": -0.5, "title": null}, "y": {"datum": 291.68, "title": null}, "text": {"value": "▪\u00a0▪▪\u00a0▪"}}},
{"data": {"values": [{"k": 1}]}, "mark": {"type": "text", "align": "left", "baseline": "alphabetic", "dx": 357, "dy": -28, "fontSize": 37, "fill": "#e02f2f", "font": "Roboto"},
 "encoding": {"x": {"datum": -0.5, "title": null}, "y": {"datum": 291.68, "title": null}, "text": {"value": "218.30\u00a0\u00a0\u00a0+6.39%\u00a0\u00a0\u00a0+13.11"}}},
{"data": {"values": [{"k": 1}]}, "mark": {"type": "text", "align": "right", "baseline": "middle", "dx": 0, "dy": -13, "fontSize": 30, "fill": "#111111", "font": "Roboto"},
 "encoding": {"x": {"datum": 29, "title": null}, "y": {"datum": 280.08, "title": null}, "text": {"value": "280.08\u00a0\u00a0\u00a0⟶"}}},
{"data": {"values": [{"k": 1}]}, "mark": {"type": "text", "align": "right", "baseline": "middle", "dx": 0, "dy": 17, "fontSize": 30, "fill": "#111111", "font": "Roboto"},
 "encoding": {"x": {"datum": 40, "title": null}, "y": {"datum": 161.8, "title": null}, "text": {"value": "161.80\u00a0\u00a0\u00a0⟶"}}}
]
},
{
"width": 1030, "height": 494,
"view": {"fill": "#ffffff", "stroke": null, "cornerRadius": 22},
"data": {"name": "p3"},
"layer": [
{"mark": {"type": "rule", "strokeWidth": 2.2},
 "encoding": {
  "x": {"field": "i", "type": "quantitative", "title": null, "scale": {"domain": [-0.5, 52.75], "range": [18, 1012], "nice": false, "zero": false},
   "axis": {"orient": "bottom", "offset": -51, "values": [-0.5, 52.75], "labelAlign": {"condition": {"test": "datum.value < 0", "value": "left"}, "value": "right"}, "labelExpr": "datum.value < 0 ? '2026/06/03' : '2026/08/17'"}},
  "y": {"field": "l", "type": "quantitative", "title": null, "scale": {"domain": [139.91, 291.42], "range": [443, 83], "nice": false, "zero": false},
   "axis": {"orient": "left", "offset": -18, "values": [139.91, 215.6651, 291.42], "labelExpr": "format(datum.value, '.2f')", "labelBaseline": {"condition": {"test": "datum.value > 291", "value": "top"}, "value": "alphabetic"}, "labelOffset": {"condition": {"test": "datum.value > 291", "value": 9}, "value": -8}}},
  "y2": {"field": "h"},
  "stroke": {"condition": {"test": "datum.c >= datum.o", "value": "#e2392d"}, "value": "#19a04b"}}},
{"data": {"values": [{"k": 1}]}, "mark": {"type": "rect", "fillOpacity": 0, "stroke": "#e6e6e6", "strokeWidth": 1.5},
 "encoding": {"x": {"datum": -0.5, "title": null}, "x2": {"datum": 52.75}, "y": {"datum": 139.91, "title": null}, "y2": {"datum": 291.42}}},
{"data": {"values": [{"g": 177.7875}, {"g": 215.6651}, {"g": 253.5425}]}, "mark": {"type": "rule", "stroke": "#e2e2e2", "strokeDash": [3, 3], "strokeWidth": 1},
 "encoding": {"x": {"datum": -0.5, "title": null}, "x2": {"datum": 52.75}, "y": {"field": "g", "type": "quantitative", "title": null}}},
{"data": {"values": [{"g": 199.3}]}, "mark": {"type": "rule", "stroke": "#d9ad82", "strokeDash": [6, 4], "strokeWidth": 1.2},
 "encoding": {"x": {"datum": -0.5, "title": null}, "x2": {"datum": 52.75}, "y": {"field": "g", "type": "quantitative", "title": null}}},
{"mark": {"type": "rule", "strokeWidth": 2.2},
 "encoding": {"x": {"field": "i", "type": "quantitative", "title": null}, "y": {"field": "l", "type": "quantitative", "title": null}, "y2": {"field": "h"},
  "stroke": {"condition": {"test": "datum.c >= datum.o", "value": "#e2392d"}, "value": "#19a04b"}}},
{"mark": {"type": "bar", "size": 12, "strokeWidth": 2.2},
 "encoding": {"x": {"field": "i", "type": "quantitative", "title": null}, "y": {"field": "o", "type": "quantitative", "title": null}, "y2": {"field": "c"},
  "fill": {"condition": {"test": "datum.c >= datum.o", "value": "#ffffff"}, "value": "#19a04b"},
  "stroke": {"condition": {"test": "datum.c >= datum.o", "value": "#e2392d"}, "value": "#19a04b"}}},
{"mark": {"type": "line", "color": "#5c1d62", "strokeWidth": 2, "interpolate": "monotone", "invalid": "filter"}, "encoding": {"x": {"field": "i", "type": "quantitative", "title": null}, "y": {"field": "m120", "type": "quantitative", "title": null}}},
{"mark": {"type": "line", "color": "#3577ad", "strokeWidth": 2, "interpolate": "monotone", "invalid": "filter"}, "encoding": {"x": {"field": "i", "type": "quantitative", "title": null}, "y": {"field": "m60", "type": "quantitative", "title": null}}},
{"mark": {"type": "line", "color": "#79c35b", "strokeWidth": 2, "interpolate": "monotone", "invalid": "filter"}, "encoding": {"x": {"field": "i", "type": "quantitative", "title": null}, "y": {"field": "m30", "type": "quantitative", "title": null}}},
{"mark": {"type": "line", "color": "#ec7387", "strokeWidth": 2, "interpolate": "monotone", "invalid": "filter"}, "encoding": {"x": {"field": "i", "type": "quantitative", "title": null}, "y": {"field": "m20", "type": "quantitative", "title": null}}},
{"mark": {"type": "line", "color": "#eba33b", "strokeWidth": 2, "interpolate": "monotone", "invalid": "filter"}, "encoding": {"x": {"field": "i", "type": "quantitative", "title": null}, "y": {"field": "m10", "type": "quantitative", "title": null}}},
{"mark": {"type": "line", "color": "#111111", "strokeWidth": 2, "interpolate": "monotone", "invalid": "filter"}, "encoding": {"x": {"field": "i", "type": "quantitative", "title": null}, "y": {"field": "m5", "type": "quantitative", "title": null}}},
{"data": {"values": [{"k": 1}]}, "mark": {"type": "text", "align": "left", "baseline": "alphabetic", "dx": 2, "dy": -28, "fontSize": 34, "fill": "#3a3a3a"},
 "encoding": {"x": {"datum": -0.5, "title": null}, "y": {"datum": 291.42, "title": null}, "text": {"value": "▇迅▘▆▇"}}},
{"data": {"values": [{"k": 1}]}, "mark": {"type": "text", "align": "left", "baseline": "alphabetic", "dx": 189, "dy": -28, "fontSize": 34, "fill": "#b8b8b8", "font": "Roboto"},
 "encoding": {"x": {"datum": -0.5, "title": null}, "y": {"datum": 291.42, "title": null}, "text": {"value": "002281"}}},
{"data": {"values": [{"k": 1}]}, "mark": {"type": "text", "align": "left", "baseline": "alphabetic", "dx": 353, "dy": -28, "fontSize": 37, "fill": "#e02f2f", "font": "Roboto"},
 "encoding": {"x": {"datum": -0.5, "title": null}, "y": {"datum": 291.42, "title": null}, "text": {"value": "199.30\u00a0\u00a0\u00a0+4.06%\u00a0\u00a0\u00a0+7.78"}}},
{"data": {"values": [{"k": 1}]}, "mark": {"type": "text", "align": "left", "baseline": "middle", "dx": 0, "dy": -13, "fontSize": 30, "fill": "#111111", "font": "Roboto"},
 "encoding": {"x": {"datum": 12, "title": null}, "y": {"datum": 279.0, "title": null}, "text": {"value": "⟵\u00a0\u00a0\u00a0279.00"}}},
{"data": {"values": [{"k": 1}]}, "mark": {"type": "text", "align": "right", "baseline": "middle", "dx": 0, "dy": 17, "fontSize": 30, "fill": "#111111", "font": "Roboto"},
 "encoding": {"x": {"datum": 40, "title": null}, "y": {"datum": 152.33, "title": null}, "text": {"value": "152.33\u00a0\u00a0\u00a0⟶"}}}
]
}
]
}
